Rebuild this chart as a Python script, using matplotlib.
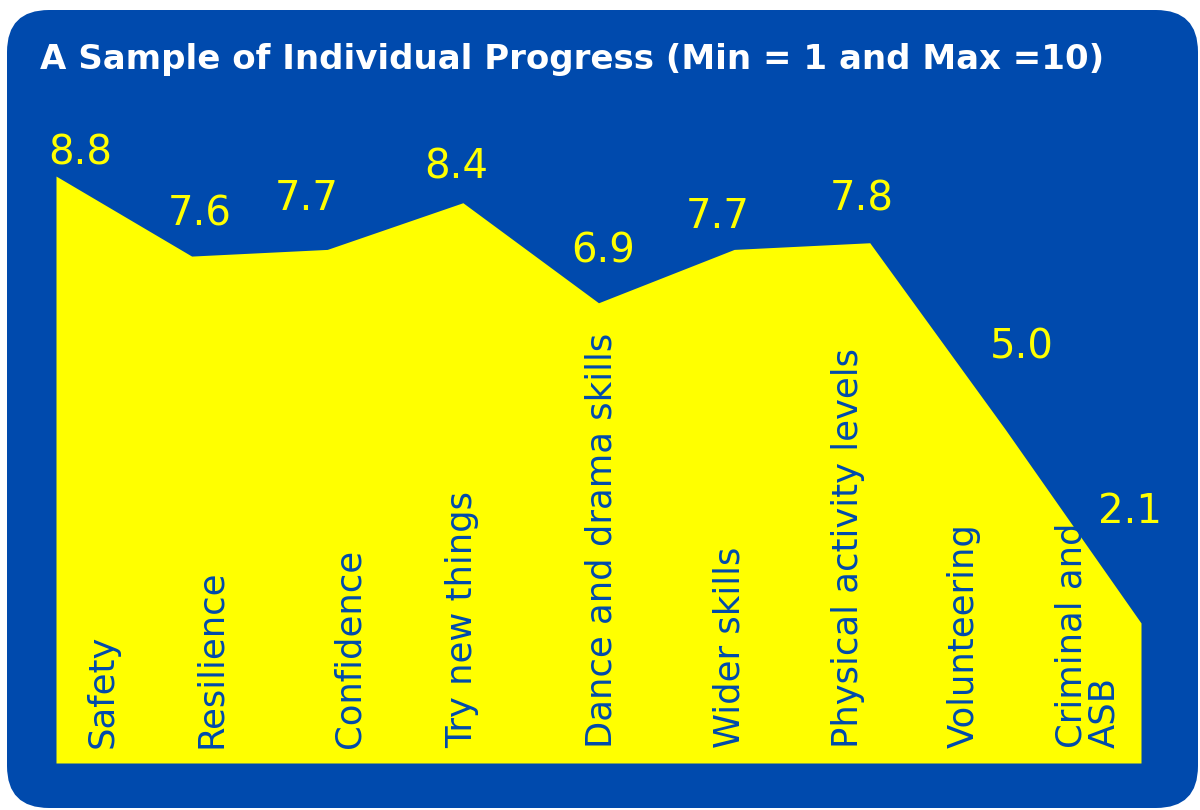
import matplotlib
matplotlib.use("Agg")
import matplotlib.pyplot as plt
from matplotlib.patches import FancyBboxPatch

categories = ["Safety", "Resilience", "Confidence", "Try new things",
              "Dance and drama skills", "Wider skills",
              "Physical activity levels", "Volunteering", "Criminal and\nASB"]
scores = [8.8, 7.6, 7.7, 8.4, 6.9, 7.7, 7.8, 5.0, 2.1]
value_labels = ["8.8", "7.6", "7.7", "8.4", "6.9", "7.7", "7.8", "5.0", "2.1"]

BLUE = "#004AAD"
YELLOW = "#FFFF00"
W, H = 1200, 810

# label offsets in pixels (dx, dy) from each point
label_offsets = [(24, 23), (8, 42), (-20, 50), (-7, 35), (5, 51),
                 (-16, 32), (-8, 43), (16, 82), (-11, 111)]
# category label x-positions (pixels)
cat_x = [103, 211, 349, 462, 601, 729, 848, 964, 1088]

fig = plt.figure(figsize=(12, 8.1), dpi=100)
fig.patch.set_facecolor("white")

bg = FancyBboxPatch((7 / W, 1 - 808 / H), (1198 - 7) / W, (808 - 10) / H,
                    boxstyle="round,pad=0,rounding_size=0.035",
                    transform=fig.transFigure, facecolor=BLUE,
                    edgecolor="none", mutation_aspect=W / H, zorder=-10)
fig.patches.append(bg)

fig.text(40 / W, 1 - 60 / H, "A Sample of Individual Progress (Min = 1 and Max =10)",
         color="white", fontsize=24.5, fontweight="bold", va="center", ha="left")

left, right, bottom, top = 56, 1141, 763, 96
ax = fig.add_axes([left / W, 1 - bottom / H, (right - left) / W, (bottom - top) / H])
ax.set_facecolor("none")
xs = list(range(len(scores)))
ax.fill_between(xs, scores, 0, color=YELLOW, linewidth=0)
ax.set_xlim(0, len(scores) - 1)
ax.set_ylim(0, 10)
ax.axis("off")

for x, y, lab, (dx, dy) in zip(xs, scores, value_labels, label_offsets):
    ax.annotate(lab, (x, y), textcoords="offset pixels", xytext=(dx, dy),
                ha="center", va="center", color=YELLOW, fontsize=29,
                annotation_clip=False)

for name, px in zip(categories, cat_x):
    fig.text(px / W, 1 - 748 / H, name, rotation=90, ha="center", va="bottom",
             color=BLUE, fontsize=25.5, linespacing=0.95, multialignment="left")

fig.savefig("out.png", dpi=100)
